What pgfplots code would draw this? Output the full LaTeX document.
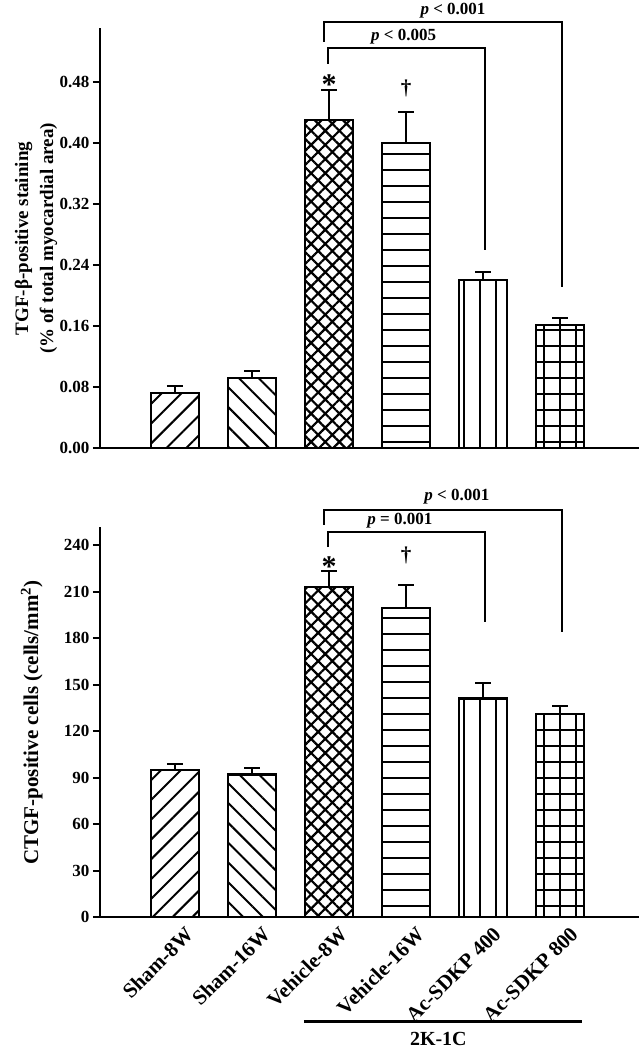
\documentclass[border=0pt]{standalone}
\usepackage{pgfplots}
\pgfplotsset{compat=1.18}
\usepackage{fontspec}
\setmainfont{Liberation Serif}
\usetikzlibrary{patterns.meta}

\newcommand{\tfont}{\bfseries\fontsize{17}{20}\selectfont}
\newcommand{\pfont}{\bfseries\fontsize{17}{20}\selectfont}
\newcommand{\lfont}{\bfseries\fontsize{19}{25}\selectfont}
\newcommand{\cfont}{\bfseries\fontsize{21}{25}\selectfont}

\pgfplotsset{
  panel/.style={
    scale only axis, width=538pt, anchor=south west,
    xmin=-0.974, xmax=6.013, ymin=0,
    axis lines*=left,
    axis line style={line width=2.5pt, line cap=rect},
    xtick={0.12,1.12,2.12,3.12,4.12,5.12},
    x tick style={draw=none},
    ytick pos=left,
    y tick style={line width=2pt, black},
    tick align=outside,
    major tick length=7pt,
    tick label style={font=\tfont},
    /pgf/number format/assume math mode=true,
    clip=false,
  },
  bar/.style={ybar, bar shift=0pt, bar width=48pt, draw=black, line width=2.5pt,
    /pgfplots/error bars/y dir=plus, /pgfplots/error bars/y explicit,
    /pgfplots/error bars/error bar style={line width=2pt, black},
    /pgfplots/error bars/error mark options={rotate=90, mark size=8pt, line width=2pt, black}},
}

\begin{document}
\begin{tikzpicture}
\useasboundingbox (0,0) rectangle (639pt,1050pt);

% ---------------- Top panel: TGF-beta ----------------
\begin{axis}[panel,
  at={(100pt,602pt)}, height=419pt,
  ymax=0.5495,
  ytick={0,0.08,0.16,0.24,0.32,0.40,0.48},
  yticklabel style={/pgf/number format/.cd, fixed, fixed zerofill, precision=2},
  xticklabels={},
  ylabel={TGF-β-positive staining\\(\% of total myocardial area)},
  ylabel style={align=center, font=\lfont, at={(axis description cs:-0.073,0.5)}, anchor=south},
]
\addplot[bar, pattern={Lines[angle=45,distance=14pt,line width=2pt]}] coordinates {(0,0.072) +- (0,0.009)};
\addplot[bar, pattern={Lines[angle=-45,distance=14pt,line width=2pt]}] coordinates {(1,0.092) +- (0,0.009)};
\addplot[bar, pattern={Hatch[angle=45,distance=10pt,line width=2.2pt]}] coordinates {(2,0.430) +- (0,0.039)};
\addplot[bar, pattern={Lines[angle=0,distance=16pt,line width=2pt]}] coordinates {(3,0.400) +- (0,0.040)};
\addplot[bar, pattern={Lines[angle=90,distance=16pt,line width=2pt]}] coordinates {(4,0.220) +- (0,0.011)};
\addplot[bar, pattern={Hatch[angle=0,distance=16pt,line width=2pt]}] coordinates {(5,0.161) +- (0,0.009)};

\draw[line width=2pt] (axis cs:1.99,0.504) |- (axis cs:4.03,0.524) -- (axis cs:4.03,0.26);
\draw[line width=2pt] (axis cs:1.94,0.533) |- (axis cs:5.03,0.559) -- (axis cs:5.03,0.211);
\node[font=\pfont] at (axis cs:3.61,0.574) {\textit{p} < 0.001};
\node[font=\pfont] at (axis cs:2.97,0.539) {\textit{p} < 0.005};
\node[font=\bfseries\fontsize{30}{30}\selectfont] at (axis cs:2,0.476) {*};
\node[font=\bfseries\fontsize{21}{21}\selectfont] at (axis cs:3,0.472) {†};
\end{axis}

% ---------------- Bottom panel: CTGF ----------------
\begin{axis}[panel,
  at={(100pt,133pt)}, height=389pt,
  ymax=251,
  ytick={0,30,...,240},
  xticklabels={Sham-8W,Sham-16W,Vehicle-8W,Vehicle-16W,Ac-SDKP 400,Ac-SDKP 800},
  xticklabel style={rotate=45, anchor=north east, font=\cfont, inner sep=1pt},
  ylabel={CTGF-positive cells (cells/mm\textsuperscript{2})},
  ylabel style={font=\fontsize{21}{25}\selectfont\bfseries, at={(axis description cs:-0.10,0.5)}, anchor=south},
]
\addplot[bar, pattern={Lines[angle=45,distance=14pt,line width=2pt]}] coordinates {(0,95) +- (0,4)};
\addplot[bar, pattern={Lines[angle=-45,distance=14pt,line width=2pt]}] coordinates {(1,92) +- (0,4)};
\addplot[bar, pattern={Hatch[angle=45,distance=10pt,line width=2.2pt]}] coordinates {(2,213) +- (0,10)};
\addplot[bar, pattern={Lines[angle=0,distance=16pt,line width=2pt]}] coordinates {(3,199.5) +- (0,14.5)};
\addplot[bar, pattern={Lines[angle=90,distance=16pt,line width=2pt]}] coordinates {(4,141) +- (0,10)};
\addplot[bar, pattern={Hatch[angle=0,distance=16pt,line width=2pt]}] coordinates {(5,131) +- (0,5)};

\draw[line width=2pt] (axis cs:1.99,238.7) |- (axis cs:4.03,248.6) -- (axis cs:4.03,190.5);
\draw[line width=2pt] (axis cs:1.94,253) |- (axis cs:5.03,262.6) -- (axis cs:5.03,183.9);
\node[font=\pfont] at (axis cs:3.66,271) {\textit{p} < 0.001};
\node[font=\pfont] at (axis cs:2.92,255.5) {\textit{p} = 0.001};
\node[font=\bfseries\fontsize{30}{30}\selectfont] at (axis cs:2,226) {*};
\node[font=\bfseries\fontsize{21}{21}\selectfont] at (axis cs:3,233) {†};

\draw[line width=3pt] (axis cs:1.675,-67.5) -- (axis cs:5.286,-67.5);
\node[font=\bfseries\fontsize{20}{22}\selectfont] at (axis cs:3.42,-78.5) {2K-1C};
\end{axis}
\end{tikzpicture}
\end{document}
